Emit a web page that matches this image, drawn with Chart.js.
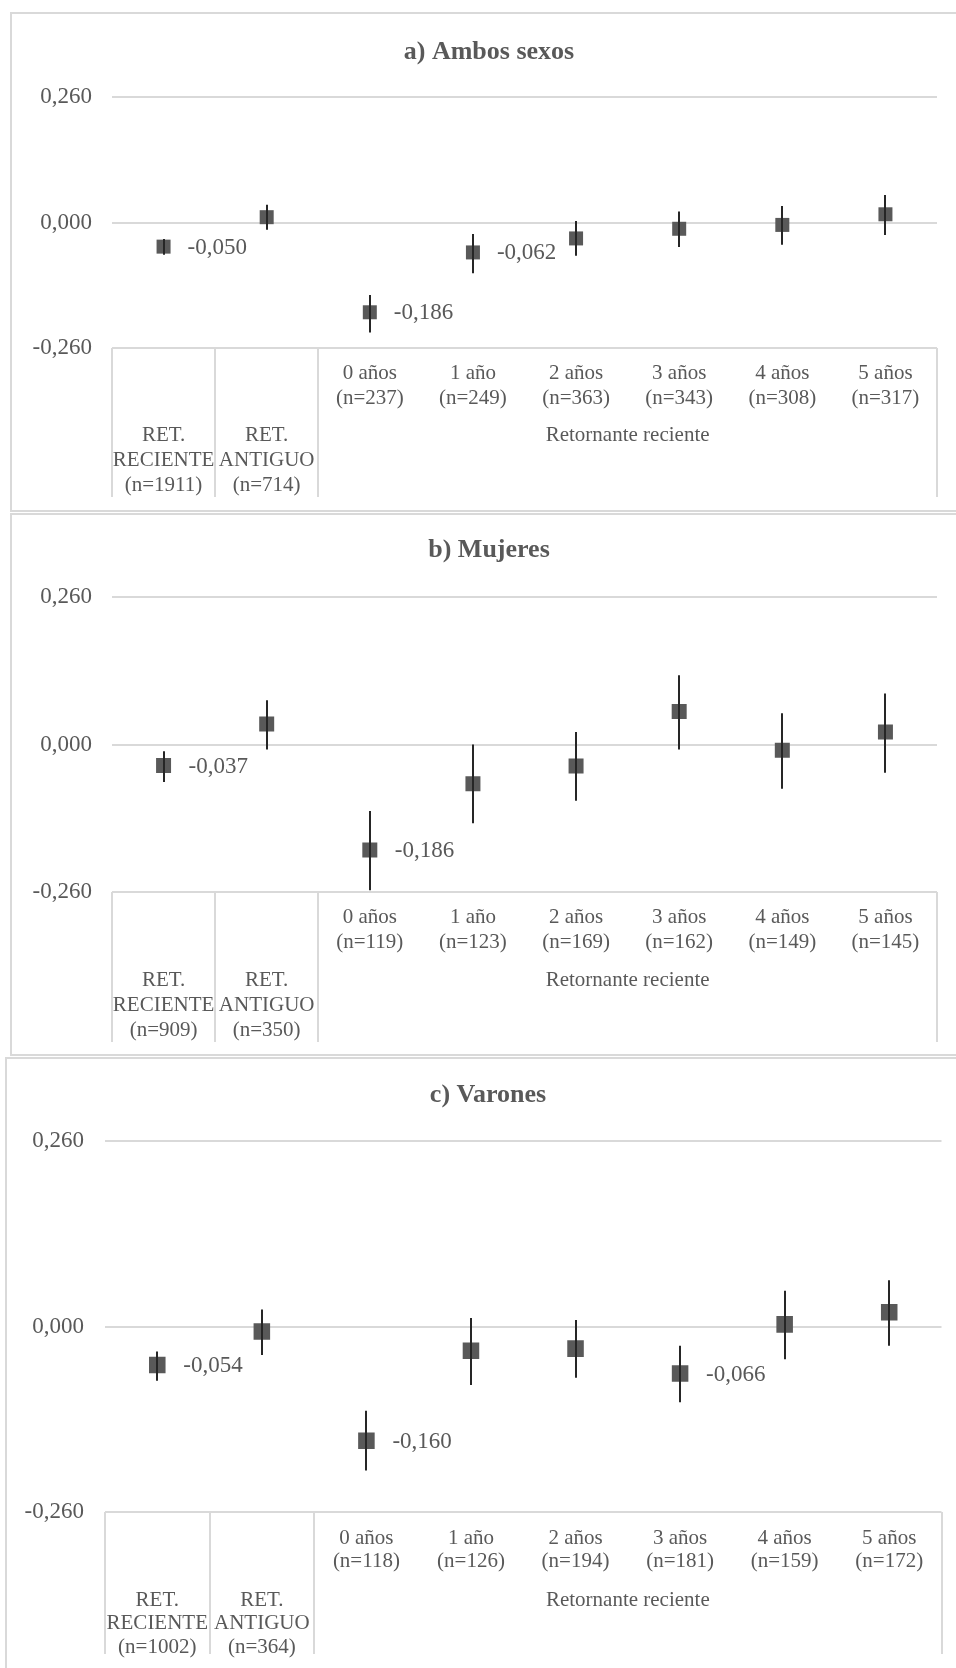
<!DOCTYPE html>
<html lang="es">
<head>
<meta charset="utf-8">
<title>Retornantes</title>
<script src="https://cdn.jsdelivr.net/npm/chart.js@4.4.1/dist/chart.umd.min.js"></script>
<style>
  html, body { margin: 0; padding: 0; background: #ffffff; width: 956px; height: 1668px; overflow: hidden; }
  .frame { position: absolute; border: 2px solid #d9d9d9; box-sizing: border-box; }
  canvas { position: absolute; }
</style>
</head>
<body>
<div class="frame" style="left:10px; top:12px; width:990px; height:500px;"></div>
<div class="frame" style="left:10px; top:513px; width:990px; height:543px;"></div>
<div class="frame" style="left:5px; top:1057px; width:990px; height:700px;"></div>
<canvas id="c1" width="956" height="498" style="left:11px; top:13px;"></canvas>
<canvas id="c2" width="956" height="541" style="left:11px; top:513px;"></canvas>
<canvas id="c3" width="964" height="610" style="left:6px; top:1058px;"></canvas>
<script>
// ---------- data ----------
const categories = ["RET. RECIENTE", "RET. ANTIGUO", "0 años", "1 año", "2 años", "3 años", "4 años", "5 años"];
const categoryLines = [["RET.", "RECIENTE"], ["RET.", "ANTIGUO"], ["0 años"], ["1 año"], ["2 años"], ["3 años"], ["4 años"], ["5 años"]];
const groupLabel = "Retornante reciente";
const yTickValues = [-0.26, 0, 0.26];

const ambosTitle = "a) Ambos sexos";
const ambosValues = [-0.050, 0.011, -0.186, -0.062, -0.033, -0.013, -0.005, 0.017];
const ambosLow    = [-0.067, -0.015, -0.228, -0.105, -0.069, -0.051, -0.046, -0.026];
const ambosHigh   = [-0.034, 0.037, -0.150, -0.024, 0.003, 0.023, 0.034, 0.057];
const ambosN      = [1911, 714, 237, 249, 363, 343, 308, 317];
const ambosLabels = ["-0,050", null, "-0,186", "-0,062", null, null, null, null];

const mujeresTitle = "b) Mujeres";
const mujeresValues = [-0.037, 0.036, -0.186, -0.069, -0.038, 0.058, -0.010, 0.022];
const mujeresLow    = [-0.066, -0.009, -0.257, -0.139, -0.099, -0.009, -0.078, -0.050];
const mujeresHigh   = [-0.012, 0.078, -0.117, 0.000, 0.022, 0.122, 0.055, 0.090];
const mujeresN      = [909, 350, 119, 123, 169, 162, 149, 145];
const mujeresLabels = ["-0,037", null, "-0,186", null, null, null, null, null];

const varonesTitle = "c) Varones";
const varonesValues = [-0.054, -0.007, -0.160, -0.034, -0.031, -0.066, 0.003, 0.020];
const varonesLow    = [-0.076, -0.040, -0.202, -0.082, -0.072, -0.106, -0.046, -0.027];
const varonesHigh   = [-0.035, 0.024, -0.118, 0.012, 0.009, -0.027, 0.050, 0.065];
const varonesN      = [1002, 364, 118, 126, 194, 181, 159, 172];
const varonesLabels = ["-0,054", null, "-0,160", null, null, "-0,066", null, null];

// ---------- styles ----------
const FONT = '"Liberation Serif", "Times New Roman", serif';
const TEXT = '#595959';
const GRID = '#d9d9d9';
const MARK = '#595959';
const BAR = '#262626';

function fmt(v) {
  if (Math.abs(v) < 1e-9) v = 0;
  return v.toFixed(3).replace('.', ',');
}

function makePanel(canvasId, title, values, low, high, nArr, labels, st) {
  const overlay = {
    id: 'overlay_' + canvasId,
    afterDatasetsDraw(chart) {
      const { ctx, chartArea, scales } = chart;
      const x = scales.x, y = scales.y;
      ctx.save();
      // error bars
      ctx.strokeStyle = BAR;
      ctx.lineWidth = 2;
      for (let i = 0; i < values.length; i++) {
        const px = Math.round(x.getPixelForValue(i));
        ctx.beginPath();
        ctx.moveTo(px, y.getPixelForValue(high[i]));
        ctx.lineTo(px, y.getPixelForValue(low[i]));
        ctx.stroke();
      }
      // data labels
      ctx.fillStyle = TEXT;
      ctx.font = '23px ' + FONT;
      ctx.textAlign = 'left';
      ctx.textBaseline = 'middle';
      for (let i = 0; i < values.length; i++) {
        if (!labels[i]) continue;
        ctx.fillText(labels[i], x.getPixelForValue(i) + st.labelDx, y.getPixelForValue(values[i]) + 1);
      }
      // title
      ctx.font = 'bold 26px ' + FONT;
      ctx.textAlign = 'center';
      ctx.fillText(title, chart.width / 2, st.titleY);
      // category separators
      const cell = (chartArea.right - chartArea.left) / categories.length;
      ctx.strokeStyle = GRID;
      ctx.lineWidth = 2;
      [0, 1, 2, categories.length].forEach(k => {
        const sx = Math.round(chartArea.left + k * cell);
        ctx.beginPath();
        ctx.moveTo(sx, chartArea.bottom);
        ctx.lineTo(sx, chartArea.bottom + st.sepLen);
        ctx.stroke();
      });
      // category labels
      ctx.font = '21px ' + FONT;
      ctx.fillStyle = TEXT;
      ctx.textAlign = 'center';
      const b = chartArea.bottom;
      for (let i = 0; i < categories.length; i++) {
        const cx = x.getPixelForValue(i);
        const lines = categoryLines[i].concat(['(n=' + nArr[i] + ')']);
        const start = lines.length === 3 ? st.row3 : st.row1;
        lines.forEach((ln, j) => ctx.fillText(ln, cx, b + start + j * st.lineH));
      }
      const gx = (x.getPixelForValue(2) + x.getPixelForValue(categories.length - 1)) / 2;
      ctx.fillText(groupLabel, gx, b + st.row3);
      ctx.restore();
    }
  };

  return new Chart(document.getElementById(canvasId), {
    type: 'line',
    data: {
      labels: categories,
      datasets: [{
        data: values,
        showLine: false,
        pointStyle: 'rect',
        pointRadius: st.radius,
        pointHoverRadius: st.radius,
        pointBackgroundColor: MARK,
        pointBorderColor: MARK,
        pointBorderWidth: 0
      }]
    },
    options: {
      responsive: false,
      animation: false,
      events: [],
      layout: { padding: st.pad },
      plugins: { legend: { display: false }, title: { display: false }, tooltip: { enabled: false } },
      scales: {
        x: {
          type: 'category',
          offset: true,
          ticks: { display: false },
          grid: { display: false },
          border: { display: false },
          afterFit: s => { s.height = 0; }
        },
        y: {
          min: -0.26,
          max: 0.26,
          afterBuildTicks: s => { s.ticks = yTickValues.map(v => ({ value: v })); },
          afterFit: s => { s.width = st.axisW; },
          ticks: {
            padding: st.tickPad,
            color: TEXT,
            font: { family: FONT, size: 23 },
            callback: v => fmt(v)
          },
          grid: { color: GRID, lineWidth: 2, drawTicks: false },
          border: { display: false }
        }
      }
    },
    plugins: [overlay]
  });
}

makePanel('c1', ambosTitle, ambosValues, ambosLow, ambosHigh, ambosN, ambosLabels, {
  radius: 9.9, titleY: 39, pad: { top: 84, bottom: 163, left: 0, right: 30 },
  axisW: 101, tickPad: 20, sepLen: 149, row1: 25, row3: 87, lineH: 25, labelDx: 24
});
makePanel('c2', mujeresTitle, mujeresValues, mujeresLow, mujeresHigh, mujeresN, mujeresLabels, {
  radius: 10.6, titleY: 37, pad: { top: 84, bottom: 162, left: 0, right: 30 },
  axisW: 101, tickPad: 20, sepLen: 150, row1: 25, row3: 88, lineH: 25, labelDx: 25
});
makePanel('c3', varonesTitle, varonesValues, varonesLow, varonesHigh, varonesN, varonesLabels, {
  radius: 11.7, titleY: 37, pad: { top: 83, bottom: 156, left: 0, right: 28.5 },
  axisW: 99, tickPad: 21, sepLen: 142, row1: 26, row3: 88, lineH: 23.5, labelDx: 26
});
</script>
</body>
</html>
